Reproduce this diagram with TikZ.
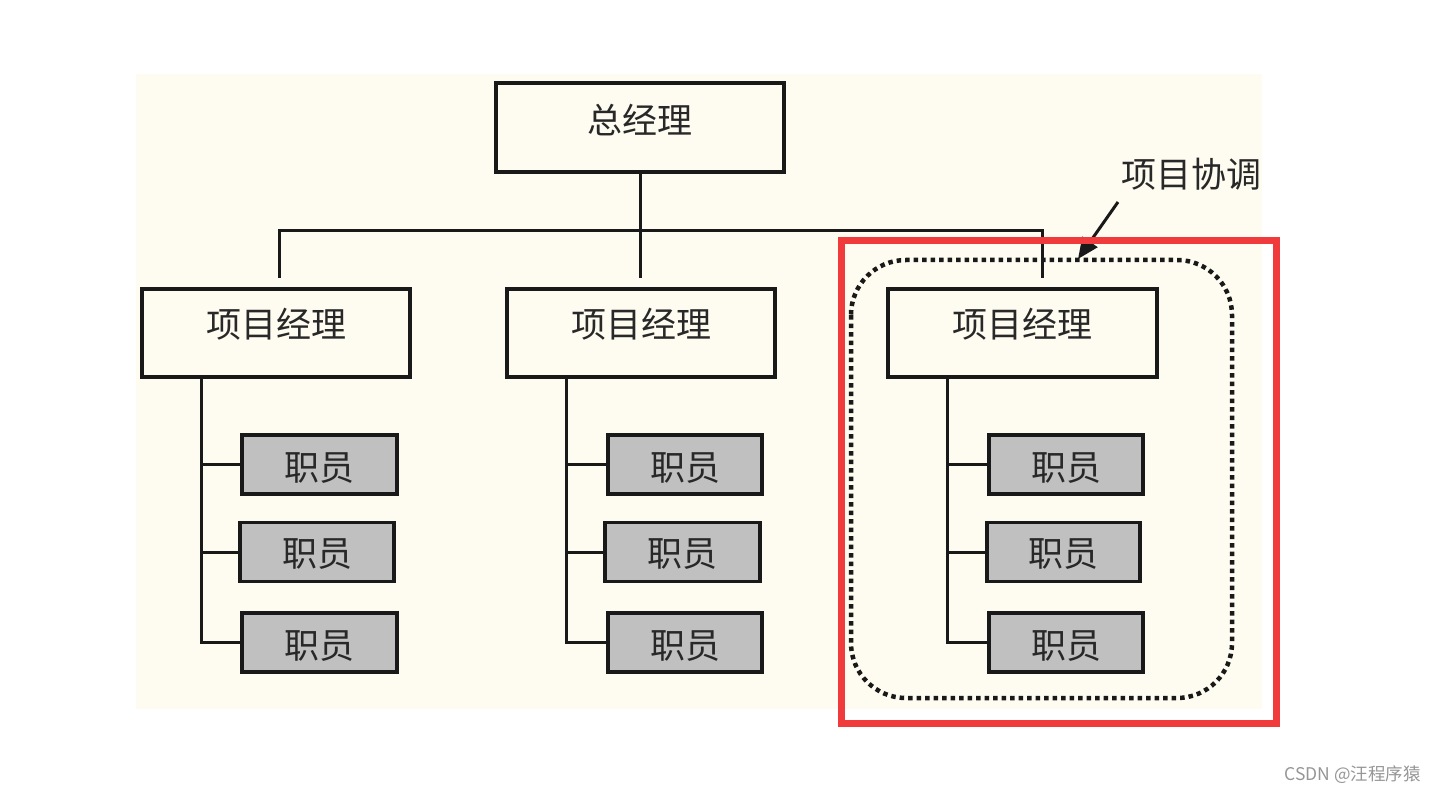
\documentclass[tikz,border=0pt]{standalone}
\usepackage{fontspec}
\setmainfont{Noto Sans CJK SC}
\usetikzlibrary{arrows.meta,calc}
\definecolor{cream}{RGB}{254,251,240}
\definecolor{boxgray}{RGB}{192,192,192}
\definecolor{redframe}{RGB}{240,58,60}
\definecolor{inkc}{RGB}{25,25,25}
\definecolor{txtc}{RGB}{40,40,40}
\definecolor{wm}{RGB}{150,150,150}
\newcommand{\lift}[2]{\raisebox{#1}[0pt][0pt]{#2}}
\tikzset{
  box/.style={draw=inkc, line width=3.2, fill=cream, inner sep=0, text=txtc,
    font=\fontsize{35}{40}\selectfont, anchor=center},
  mgr/.style={box, minimum height=88},
  staff/.style={box, fill=boxgray, minimum height=59, minimum width=154},
  conn/.style={draw=inkc, line width=3},
  dotline/.style={draw=inkc, line width=4.5, dash pattern=on 4.5 off 4, rounded corners=55},
}
\begin{document}
\begin{tikzpicture}[x=1pt,y=-1pt]
\useasboundingbox (0,0) rectangle (1437,794);
\fill[white] (0,0) rectangle (1437,794);
\fill[cream] (136,74) rectangle (1262,709);

% nodes
\node[mgr, minimum width=288, minimum height=89] (gm) at (640,127.5) {\lift{-6pt}{总经理}};
\node[mgr, minimum width=268] (pm1) at (276,333) {\lift{-4pt}{项目经理}};
\node[mgr, minimum width=268] (pm2) at (641,333) {\lift{-4pt}{项目经理}};
\node[mgr, minimum width=269] (pm3) at (1022.5,333) {\lift{-4pt}{项目经理}};

\node[staff, minimum width=155] (e11) at (319.5,464.5) {\lift{-16pt}{职员}};
\node[staff] (e12) at (317,552) {\lift{-14pt}{职员}};
\node[staff, minimum width=155] (e13) at (319.5,642.5) {\lift{-16pt}{职员}};
\node[staff] (e21) at (685,464.5) {\lift{-16pt}{职员}};
\node[staff, minimum width=155] (e22) at (682.5,552) {\lift{-14pt}{职员}};
\node[staff] (e23) at (685,642.5) {\lift{-16pt}{职员}};
\node[staff] (e31) at (1066,464.5) {\lift{-16pt}{职员}};
\node[staff, minimum width=153] (e32) at (1063.5,552) {\lift{-14pt}{职员}};
\node[staff] (e33) at (1066,642.5) {\lift{-16pt}{职员}};

% top connectors
\coordinate (j) at (640,231);
\draw[conn] (gm.south) -- (j);
\draw[conn, shorten >=9.5pt] (j) -- ([xshift=-1]pm2.north);
\draw[conn, shorten >=9.5pt] (j) -| ([xshift=3]pm1.north);
\draw[conn, shorten >=9.5pt] (j) -| ([xshift=19.5]pm3.north);

% staff connectors
\foreach \p/\a/\b/\c in {pm1/e11/e12/e13, pm2/e21/e22/e23, pm3/e31/e32/e33}{
  \draw[conn] ([xshift=61.5]\p.south west) |- (\a.west);
  \draw[conn] ([xshift=61.5]\p.south west) |- (\b.west);
  \draw[conn] ([xshift=61.5]\p.south west) |- (\c.west);
}

% dotted group
\draw[dotline] (851,260) rectangle (1232,698);

% label and arrow
\node[text=txtc, font=\fontsize{35}{40}\selectfont, inner sep=0] (lbl) at (1191,176) {\lift{-12pt}{项目协调}};
\coordinate (as) at (1118,202);
\coordinate (tip) at (1078,259);
\draw[conn, -{Triangle[length=21,width=18]}] (as) -- (tip);

% red frame
\draw[redframe, line width=7] (841.5,240.5) rectangle (1276.5,723);

% watermark
\node[text=wm, font=\fontsize{17.5}{20}\selectfont, inner sep=0, anchor=east] (wmk) at (1421,775) {CSDN @汪程序猿};
\end{tikzpicture}
\end{document}
